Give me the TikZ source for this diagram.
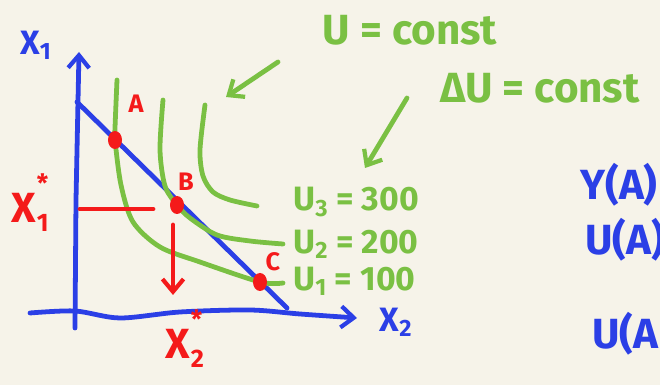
\documentclass[tikz,border=0pt]{standalone}
\usepackage{fontspec}
\setmainfont{Fira Sans}
\usetikzlibrary{arrows.meta}
\definecolor{paper}{HTML}{F6F3E9}
\definecolor{penblue}{HTML}{2B3FE6}
\definecolor{pengreen}{HTML}{7AC043}
\definecolor{penred}{HTML}{F41A1A}
\tikzset{
  pen/.style={line width=3.4pt, line cap=round, line join=round},
  barb/.style={-{Straight Barb[length=9pt, width=15pt, line width=3pt]}},
  hand/.style={font=\bfseries\fontsize{24}{24}\selectfont, inner sep=0pt},
  smallhand/.style={font=\bfseries\fontsize{18}{18}\selectfont, inner sep=0pt},
  bighand/.style={font=\bfseries\fontsize{30}{30}\selectfont, inner sep=0pt},
}
\begin{document}
\begin{tikzpicture}[x=0.025cm, y=-0.025cm, line join=round, line cap=round]

	\fill[paper] (0,0) rectangle (660,385);
	\clip (0,0) rectangle (660,385);

	% points
	\coordinate (A) at (115,140);
	\coordinate (B) at (177,205);
	\coordinate (C) at (260,282);
	\coordinate (Ytop) at (79,52);
	\coordinate (Xend) at (357,318);

	% axes and budget line
	\draw[pen, penblue, barb] (75,328) -- (76,200) -- (Ytop);
	\draw[pen, penblue, barb] plot[smooth] coordinates {(30,313) (75,311) (120,318) (180,312) (250,310) (300,314) (Xend)};
	\draw[pen, penblue] (77,102) -- (287,308);

	% indifference curves
	\draw[pen, pengreen] plot[smooth] coordinates {(117,80) (115,128) (A) (121,185) (133,222) (160,247) (200,262) (C) (283,283)};
	\draw[pen, pengreen] plot[smooth] coordinates {(163,100) (160,150) (165,186) (B) (190,218) (217,235) (250,241) (283,244)};
	\draw[pen, pengreen] plot[smooth] coordinates {(205,105) (200,150) (203,176) (213,192) (230,200) (257,206)};

	% green hints
	\coordinate (h1) at (278,62);
	\coordinate (h2) at (226,97);
	\coordinate (h3) at (407,98);
	\coordinate (h4) at (365,168);
	\draw[pen, pengreen, barb] (h1) -- (h2);
	\draw[pen, pengreen, barb] (h3) -- (h4);

	% optimum
	\draw[pen, penred] (80,209) -- (153,209);
	\draw[pen, penred, barb] (173,225) -- (173,295);
	\foreach \point in {A, B, C} {
		\fill[penred] (\point) ellipse (7 and 9);
	}

	% labels
	\node[hand, penblue] (lx1) at (36,45) {X\textsubscript{1}};
	\node[hand, penblue] (lx2) at (396,322) {X\textsubscript{2}};
	\node[smallhand, penred] (la) at (136,104) {A};
	\node[smallhand, penred] (lb) at (186,182) {B};
	\node[smallhand, penred] (lc) at (273,262) {C};

	\node[hand, penred, font=\bfseries\fontsize{30}{30}\selectfont] (lx1s) at (24,208) {X};
	\node[smallhand, penred, anchor=south west] (lx1star) at (lx1s.north east) {*};
	\node[smallhand, penred, anchor=west] (lx1sub) at (lx1s.south east) {1};
	\node[hand, penred, font=\bfseries\fontsize{30}{30}\selectfont] (lx2s) at (178,344) {X};
	\node[smallhand, penred, anchor=south west] (lx2star) at (lx2s.north east) {*};
	\node[smallhand, penred, anchor=west] (lx2sub) at (lx2s.south east) {2};

	\node[bighand, pengreen] (lu) at (410,30) {U = const};
	\node[bighand, pengreen] (ldu) at (540,88) {ΔU = const};
	\node[hand, pengreen, anchor=west] (lu3) at (293,202) {U\textsubscript{3} = 300};
	\node[hand, pengreen, anchor=west] (lu2) at (293,244) {U\textsubscript{2} = 200};
	\node[hand, pengreen, anchor=west] (lu1) at (293,281) {U\textsubscript{1} = 100};

	\node[bighand, penblue, anchor=west] (lya) at (580,185) {Y(A)};
	\node[bighand, penblue, anchor=west] (lua) at (585,240) {U(A)};
	\node[bighand, penblue, anchor=west] (lua2) at (592,334) {U(A};

\end{tikzpicture}
\end{document}
